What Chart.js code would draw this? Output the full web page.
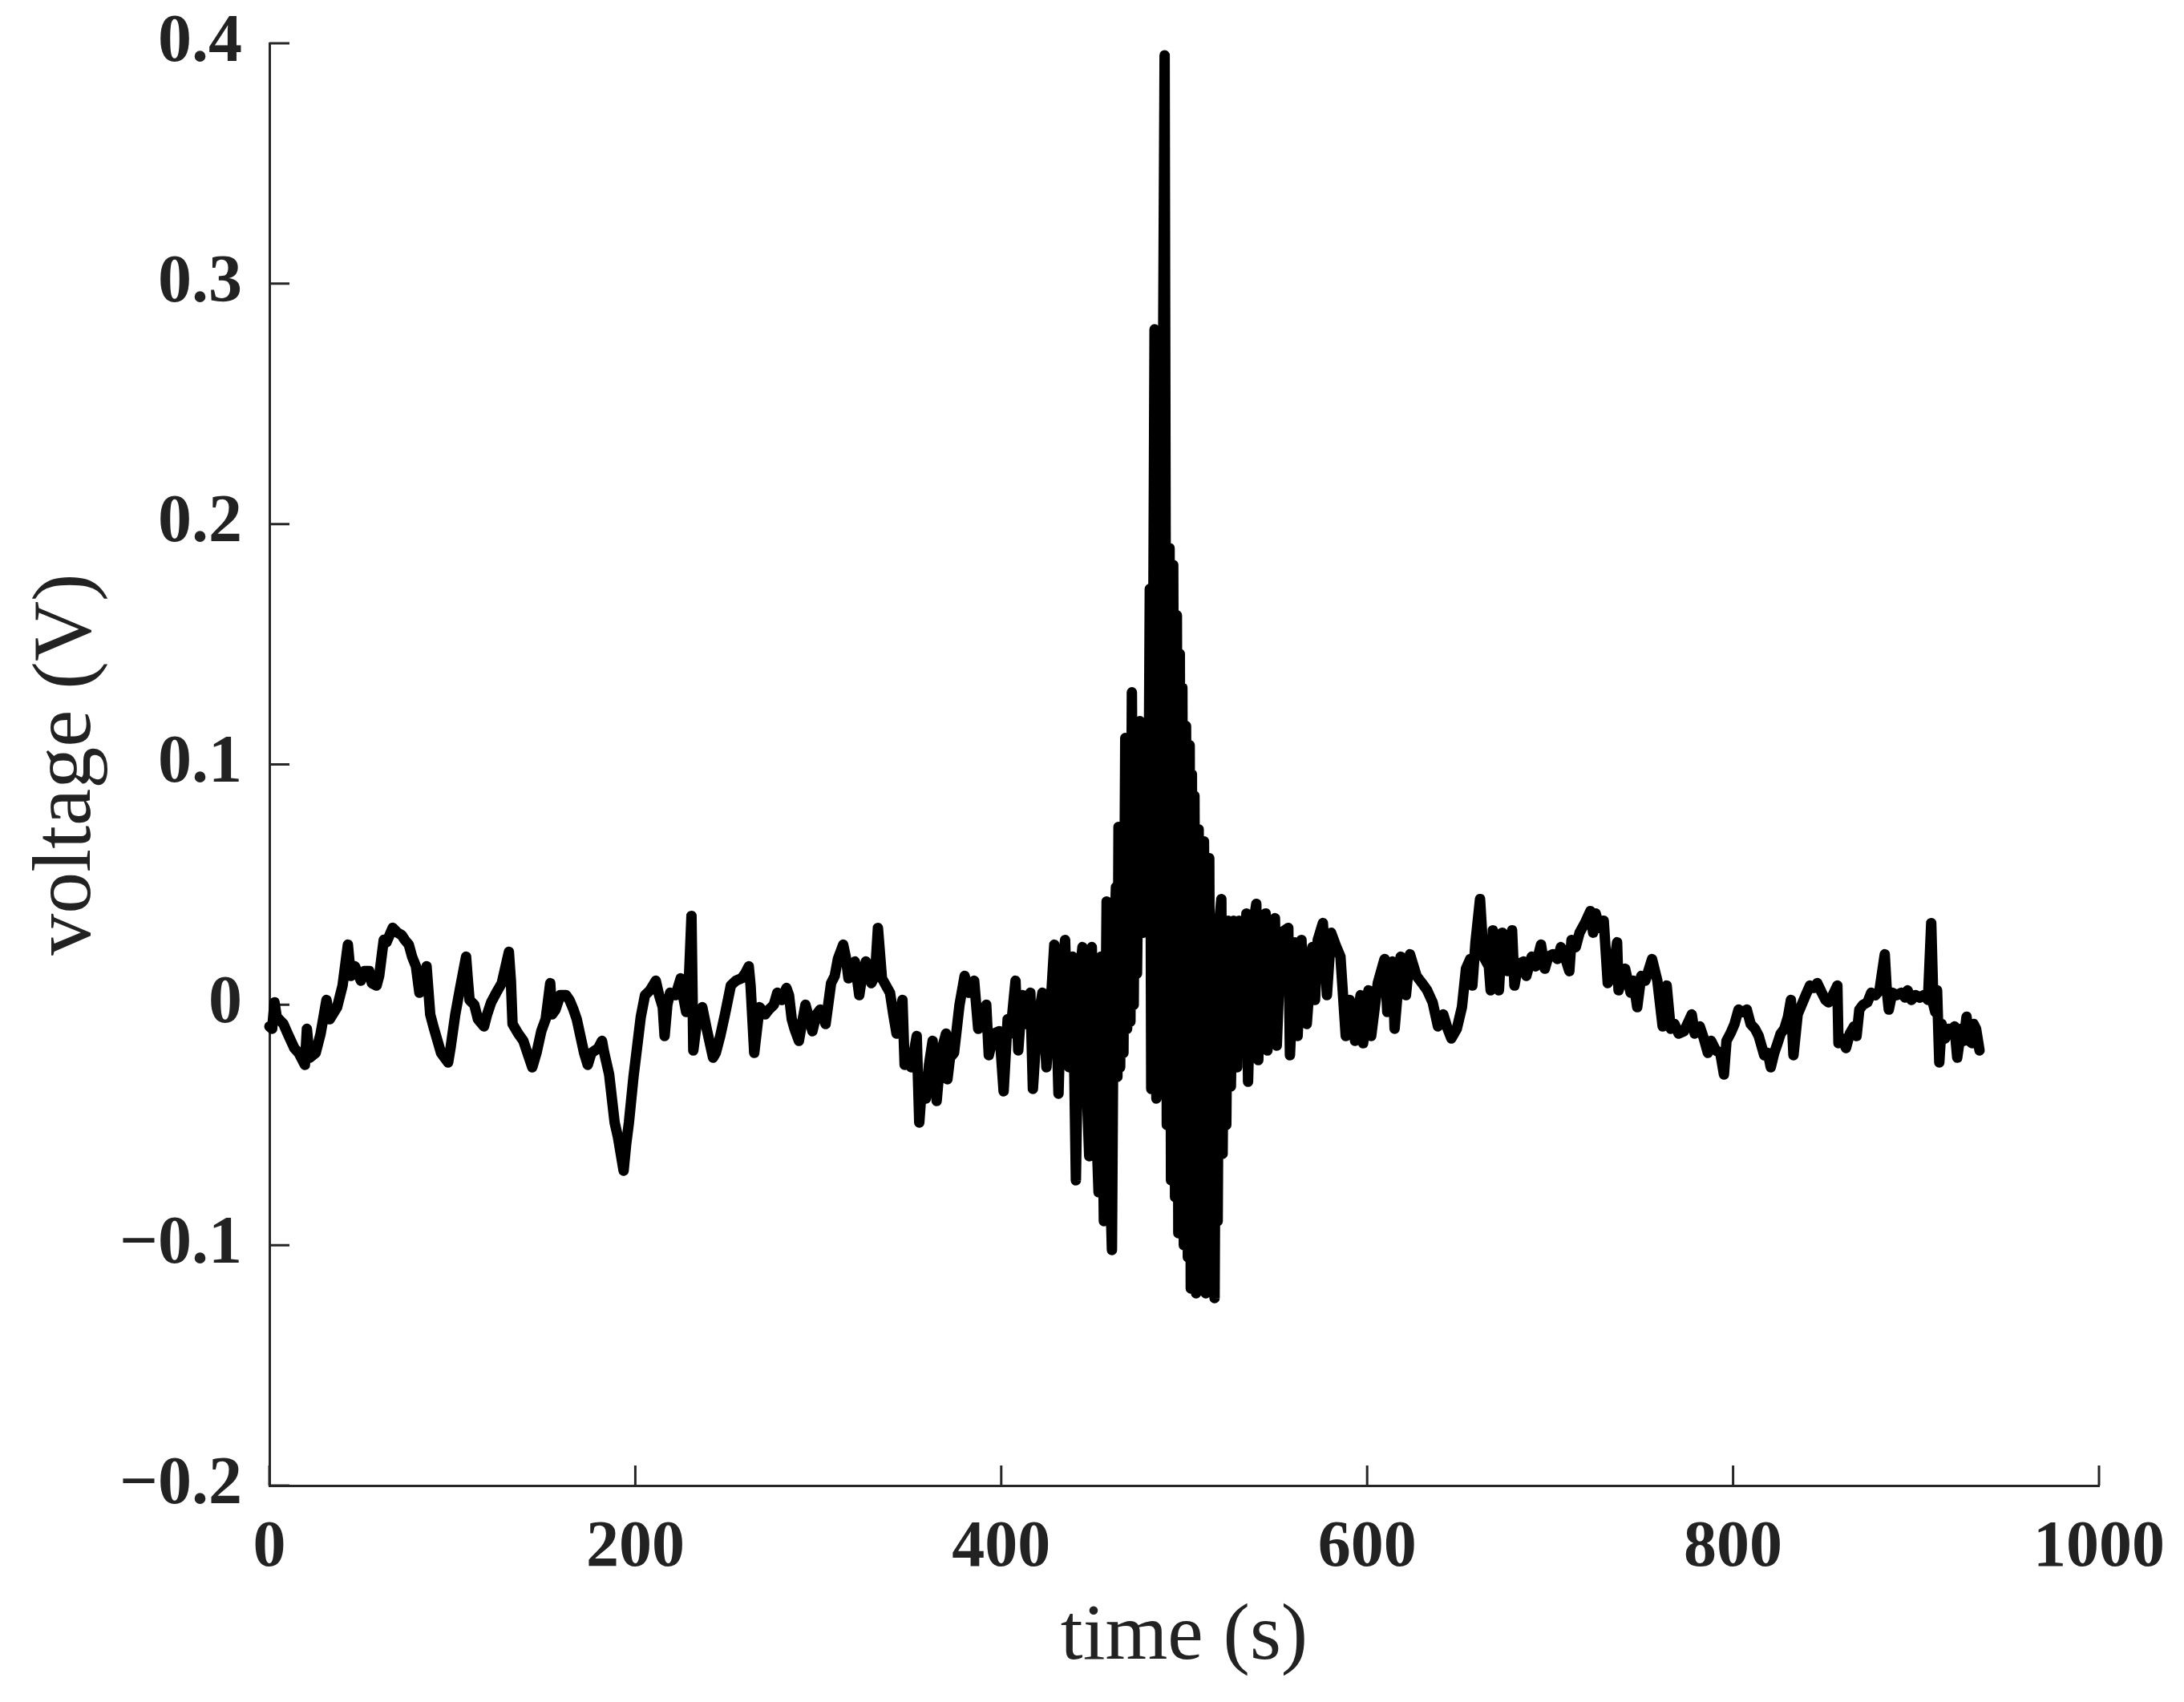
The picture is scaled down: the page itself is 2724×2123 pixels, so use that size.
<!DOCTYPE html>
<html>
<head>
<meta charset="utf-8">
<script src="https://cdn.jsdelivr.net/npm/chart.js@4.4.1/dist/chart.umd.min.js"></script>
<style>
  html, body { margin: 0; padding: 0; background: #fff; }
  canvas { display: block; }
</style>
</head>
<body>
<canvas id="voltChart" width="2724" height="2123"></canvas>
<script>
// time in seconds
const timeS = [
  0, 1.5, 2.8, 4, 7.7, 10, 13.6, 16, 19.4, 20.5,
  22, 25.3, 28, 31.2, 33, 37, 40, 42.9, 44.5, 46.8,
  50, 52, 54.6, 56, 58.6, 60, 62.5, 64, 67.4, 70,
  72.3, 74, 76.2, 78, 80.1, 82, 84, 85.9, 87.9, 90,
  93.8, 97.7, 99, 101.6, 104, 107.5, 108.5, 109.4, 112, 114,
  117.3, 119, 121.2, 124, 127, 130.9, 132, 132.9, 136, 138.8,
  141, 143.7, 146, 148.6, 151, 153.5, 154.5, 156.4, 159, 162.2,
  164, 166.2, 168, 170, 172, 174, 176, 179.8, 181.8, 183,
  185.7, 188.7, 190.5, 193.6, 195, 196.5, 199, 201.4, 203, 205.3,
  208, 211.2, 213, 215, 216, 217.5, 219, 222, 224.8, 226,
  227.8, 229, 230.7, 231.7, 234, 236.6, 239, 242.5, 244, 246.4,
  249, 252.2, 255, 258.1, 260, 262, 263, 265, 267.9, 271,
  273, 275.7, 277.6, 280, 282.6, 284, 285.5, 287, 289.4, 291,
  // 293 .. 459
  293, 296.8, 299, 301, 304, 307, 309, 310.7, 313.6, 315,
  316.5, 318, 320, 322.4, 324, 326, 329, 331, 332.6, 334.8,
  337, 339.2, 341, 342.8, 346, 347.2, 349, 350.8, 353.8, 355.2,
  357, 358.8, 360.5, 362.5, 364.7, 367, 369.8, 370.6, 372, 374.2,
  376, 377.2, 380, 382.3, 385.2, 387.4, 389.5, 391.8, 393.2, 396,
  399, 401.3, 403.5, 405, 407.8, 409.3, 411.5, 413, 415.9, 417.3,
  419.5, 422.5, 424.7, 427, 429, 431.3, 433, 434.9, 437.1, 439,
  440.8, 442.5, 444.4, 446, 448.1, 449.5, 451, 453.2, 454.5, 456.1,
  457.6, 459,
  // burst
  460.5, 461.5, 462.7, 463.5, 464.1, 465, 466, 466.8, 467.8, 468.8,
  469.8, 470.6, 471.4, 472.4, 473.3, 474.2, 475.8, 476.8, 477.6, 479.4,
  480.2, 481.2, 482, 483.8, 484.8, 486, 487, 488, 489.3, 490.5,
  492, 492.8, 494, 495, 496, 496.8, 497.6, 498.4, 499, 499.8,
  501, 502, 503, 503.6, 504.2, 505, 505.6, 506.5, 507.9, 508.8,
  509.6, 510.2, 510.8, 511.8, 512.6, 513.7, 514.5, 515.2, 516.6, 517.5,
  518.3, 519.2, 520.3, 521, 522, 523, 524, 525.5, 527, 529,
  530, 532, 534, 534.9, 537, 539.4, 540.5, 542, 544.5, 545.5,
  547, 549.6, 550.6, 553, 556.9, 557.8,
  // 560 .. 773
  560.5, 562, 564.1, 565.5, 567, 570, 571.5, 573, 575.8, 578,
  580.3, 583.2, 585.4, 588.3, 590.5, 593.4, 596.4, 597.8, 600.7, 602.2,
  605.8, 609.5, 611, 612, 613.8, 615, 618.3, 621.2, 623.4, 627,
  630, 632.8, 635.8, 638.7, 641.6, 644, 646, 649, 651.8, 654,
  656.3, 657.5, 659.2, 661.7, 663.6, 666.5, 667.5, 668.7, 670.9, 672,
  673.8, 676.7, 679.2, 680.5, 682.6, 685.5, 687, 689.9, 692, 695,
  697.1, 699, 701.5, 704, 705.9, 708, 710.5, 711.7, 714, 716.1,
  719, 722, 723.5, 724.9, 727, 729.3, 731.5, 734, 736.6, 737.4,
  739, 741, 744, 745.5, 747.6, 749.8, 752, 755.7, 758.6, 761.5,
  763.7, 765.9, 768, 770.2, 773.2,
  // 777 .. end
  777.4, 779, 781.8, 784, 786.2, 788, 790.6, 793, 795, 796.4,
  798.5, 800.8, 803, 805.2, 807.5, 809.6, 812, 814, 817, 819,
  820.6, 822.5, 824.3, 826, 828, 830, 831.6, 833, 835.3, 837.5,
  839.7, 842, 844.1, 846, 848.5, 850.5, 852.2, 854.5, 857, 857.6,
  859.5, 861.7, 863.8, 866.1, 867.5, 869, 871, 873.4, 875.5, 877.8,
  880, 882.9, 884, 885.1, 887, 889.5, 892, 894, 895.4, 897.5,
  899.8, 902, 904.2, 906.5, 908.3, 909.5, 910.5, 911.5, 912.7, 914,
  915.9, 918, 919.5, 921, 922.5, 924.7, 926, 927.6, 929, 930.6,
  931.5, 932.8, 934.7
];

// voltage in volts, same order as timeS
const voltV = [
  -0.009, -0.010, 0.001, -0.005, -0.008, -0.012, -0.018, -0.020, -0.025, -0.010,
  -0.022, -0.020, -0.012, 0.002, -0.006, -0.001, 0.008, 0.025, 0.012, 0.016,
  0.010, 0.014, 0.014, 0.009, 0.008, 0.012, 0.027, 0.026, 0.032, 0.030,
  0.029, 0.027, 0.025, 0.020, 0.016, 0.005, 0.010, 0.016, -0.004, -0.010,
  -0.020, -0.024, -0.018, -0.004, 0.006, 0.020, 0.010, 0.002, 0.000, -0.006,
  -0.009, -0.004, 0.001, 0.005, 0.009, 0.022, 0.010, -0.008, -0.012, -0.015,
  -0.020, -0.026, -0.020, -0.011, -0.006, 0.009, -0.004, -0.002, 0.004, 0.004,
  0.002, -0.002, -0.006, -0.013, -0.020, -0.025, -0.020, -0.018, -0.015, -0.020,
  -0.029, -0.049, -0.055, -0.069, -0.058, -0.049, -0.030, -0.015, -0.005, 0.004,
  0.006, 0.010, 0.004, -0.001, -0.013, 0.000, 0.005, 0.004, 0.011, 0.004,
  -0.003, 0.005, 0.037, -0.019, -0.005, -0.001, -0.010, -0.022, -0.020, -0.013,
  -0.004, 0.008, 0.010, 0.011, 0.013, 0.016, 0.008, -0.020, -0.001, -0.004,
  -0.002, 0.000, 0.005, 0.002, 0.007, 0.004, -0.006, -0.010, -0.015, -0.008,
  // 293 .. 459
  0.000, -0.011, -0.004, -0.002, -0.008, 0.009, 0.012, 0.019, 0.025, 0.020,
  0.011, 0.016, 0.018, 0.004, 0.012, 0.018, 0.009, 0.012, 0.032, 0.011,
  0.008, 0.005, -0.004, -0.012, 0.002, -0.025, -0.020, -0.026, -0.013, -0.049,
  -0.030, -0.039, -0.025, -0.015, -0.040, -0.020, -0.012, -0.031, -0.022, -0.020,
  -0.008, 0.000, 0.012, 0.005, 0.010, -0.010, -0.006, 0.000, -0.021, -0.012,
  -0.011, -0.036, -0.006, -0.012, 0.010, -0.019, 0.004, -0.008, 0.005, -0.035,
  -0.009, 0.005, -0.026, 0.000, 0.025, -0.037, 0.010, 0.027, -0.026, 0.020,
  -0.073, 0.010, 0.024, -0.020, -0.063, 0.024, -0.030, -0.078, 0.020, -0.090,
  0.043, -0.060,
  // burst
  -0.102, 0.020, 0.049, -0.030, 0.074, -0.026, 0.060, -0.020, 0.111, -0.010,
  0.090, -0.007, 0.130, 0.000, 0.100, 0.013, 0.118, 0.030, 0.030, 0.114,
  0.035, 0.173, -0.035, 0.281, -0.039, 0.215, -0.030, 0.200, 0.395, -0.050,
  0.190, -0.073, 0.183, -0.080, 0.162, -0.095, 0.146, -0.090, 0.132, -0.100,
  0.116, -0.105, 0.108, -0.118, 0.096, -0.115, 0.087, -0.120, 0.073, -0.112,
  0.060, -0.118, 0.068, -0.120, 0.050, 0.061, -0.118, 0.030, -0.122, 0.020,
  -0.090, 0.035, 0.044, -0.062, 0.030, -0.050, 0.035, -0.034, 0.035, -0.026,
  0.035, -0.020, 0.038, -0.032, 0.030, 0.042, -0.023, 0.030, 0.038, -0.019,
  0.030, 0.036, -0.017, 0.030, 0.032, -0.021,
  // 560 .. 773
  0.026, -0.013, 0.027, -0.006, -0.008, 0.024, 0.002, 0.027, 0.034, 0.004,
  0.030, 0.024, 0.020, -0.013, 0.002, -0.015, 0.004, -0.016, 0.006, -0.013,
  0.009, 0.019, -0.003, 0.015, 0.018, -0.010, 0.020, 0.004, 0.021, 0.012,
  0.009, 0.006, 0.001, -0.009, -0.004, -0.010, -0.014, -0.010, -0.001, 0.015,
  0.019, 0.008, 0.026, 0.044, 0.020, 0.016, 0.006, 0.031, 0.024, 0.006,
  0.030, 0.014, 0.031, 0.008, 0.017, 0.018, 0.012, 0.020, 0.016, 0.025,
  0.015, 0.020, 0.021, 0.019, 0.024, 0.020, 0.014, 0.027, 0.024, 0.030,
  0.034, 0.039, 0.030, 0.038, 0.032, 0.035, 0.009, 0.012, 0.026, 0.006,
  0.010, 0.015, 0.005, 0.010, -0.001, 0.012, 0.010, 0.019, 0.010, -0.009,
  0.008, -0.010, -0.008, -0.012, -0.011,
  // 777 .. end
  -0.004, -0.012, -0.009, -0.014, -0.020, -0.015, -0.019, -0.020, -0.029, -0.015,
  -0.012, -0.008, -0.002, -0.003, -0.002, -0.008, -0.010, -0.013, -0.021, -0.020,
  -0.026, -0.020, -0.016, -0.012, -0.010, -0.005, 0.002, -0.021, -0.004, 0.000,
  0.004, 0.008, 0.007, 0.009, 0.005, 0.002, 0.001, 0.004, 0.008, -0.016,
  -0.014, -0.018, -0.012, -0.009, -0.013, -0.002, 0.000, 0.001, 0.005, 0.004,
  0.006, 0.021, 0.006, -0.002, 0.005, 0.004, 0.005, 0.003, 0.006, 0.002,
  0.004, 0.003, 0.004, 0.002, 0.034, 0.000, -0.003, 0.006, -0.024, -0.008,
  -0.014, -0.010, -0.012, -0.009, -0.022, -0.010, -0.015, -0.005, -0.015, -0.016,
  -0.008, -0.010, -0.019
];

const xTicks = [0, 200, 400, 600, 800, 1000];
const xTickLabels = ['0', '200', '400', '600', '800', '1000'];
const yTicks = [-0.2, -0.1, 0, 0.1, 0.2, 0.3, 0.4];
const yTickLabels = ['\u22120.2', '\u22120.1', '0', '0.1', '0.2', '0.3', '0.4'];

const axisColor = '#262626';
const serif = '"Liberation Serif", "Times New Roman", serif';

// MATLAB style ticks pointing into the plot
const inwardTicks = {
  id: 'inwardTicks',
  beforeDatasetsDraw(chart) {
    const { ctx, chartArea, scales } = chart;
    ctx.save();
    ctx.strokeStyle = axisColor;
    ctx.lineWidth = 3;
    ctx.beginPath();
    xTicks.forEach(v => {
      const px = scales.x.getPixelForValue(v);
      ctx.moveTo(px, chartArea.bottom);
      ctx.lineTo(px, chartArea.bottom - 25);
    });
    yTicks.forEach(v => {
      const py = scales.y.getPixelForValue(v);
      ctx.moveTo(chartArea.left, py);
      ctx.lineTo(chartArea.left + 25, py);
    });
    ctx.stroke();
    ctx.restore();
  }
};

const points = timeS.map((t, i) => ({ x: t, y: voltV[i] }));

new Chart(document.getElementById('voltChart').getContext('2d'), {
  type: 'line',
  data: {
    datasets: [{
      data: points,
      borderColor: '#000',
      borderWidth: 13,
      borderJoinStyle: 'round',
      borderCapStyle: 'round',
      pointRadius: 0,
      tension: 0,
      fill: false,
      clip: false
    }]
  },
  options: {
    responsive: false,
    animation: false,
    layout: { padding: { left: 0, right: 106, top: 54, bottom: 0 } },
    plugins: { legend: { display: false }, tooltip: { enabled: false } },
    scales: {
      x: {
        type: 'linear',
        min: 0, max: 1000,
        afterBuildTicks: s => { s.ticks = xTicks.map(v => ({ value: v })); },
        afterFit: s => { s.height = 270; s.paddingLeft = 0; s.paddingRight = 0; },
        grid: { display: true, drawOnChartArea: false, drawTicks: false },
        border: { display: true, color: axisColor, width: 3 },
        ticks: {
          padding: 30,
          color: '#222',
          font: { family: serif, size: 82, weight: 'bold' },
          callback: (v) => xTickLabels[xTicks.indexOf(v)]
        },
        title: {
          display: true,
          text: 'time (s)',
          color: '#222',
          font: { family: serif, size: 100 },
          padding: { top: 0, bottom: 20 }
        }
      },
      y: {
        min: -0.2, max: 0.4,
        afterBuildTicks: s => { s.ticks = yTicks.map(v => ({ value: v })); },
        afterFit: s => { s.width = 336; s.paddingTop = 0; s.paddingBottom = 0; },
        grid: { display: true, drawOnChartArea: false, drawTicks: false },
        border: { display: true, color: axisColor, width: 3 },
        ticks: {
          padding: 34,
          color: '#222',
          font: { family: serif, size: 84, weight: 'bold' },
          callback: (v) => yTickLabels[yTicks.findIndex(t => Math.abs(t - v) < 1e-9)]
        },
        title: {
          display: true,
          text: 'voltage (V)',
          color: '#222',
          font: { family: serif, size: 104 },
          padding: { top: 22, bottom: 0 }
        }
      }
    }
  },
  plugins: [inwardTicks]
});
</script>
</body>
</html>
